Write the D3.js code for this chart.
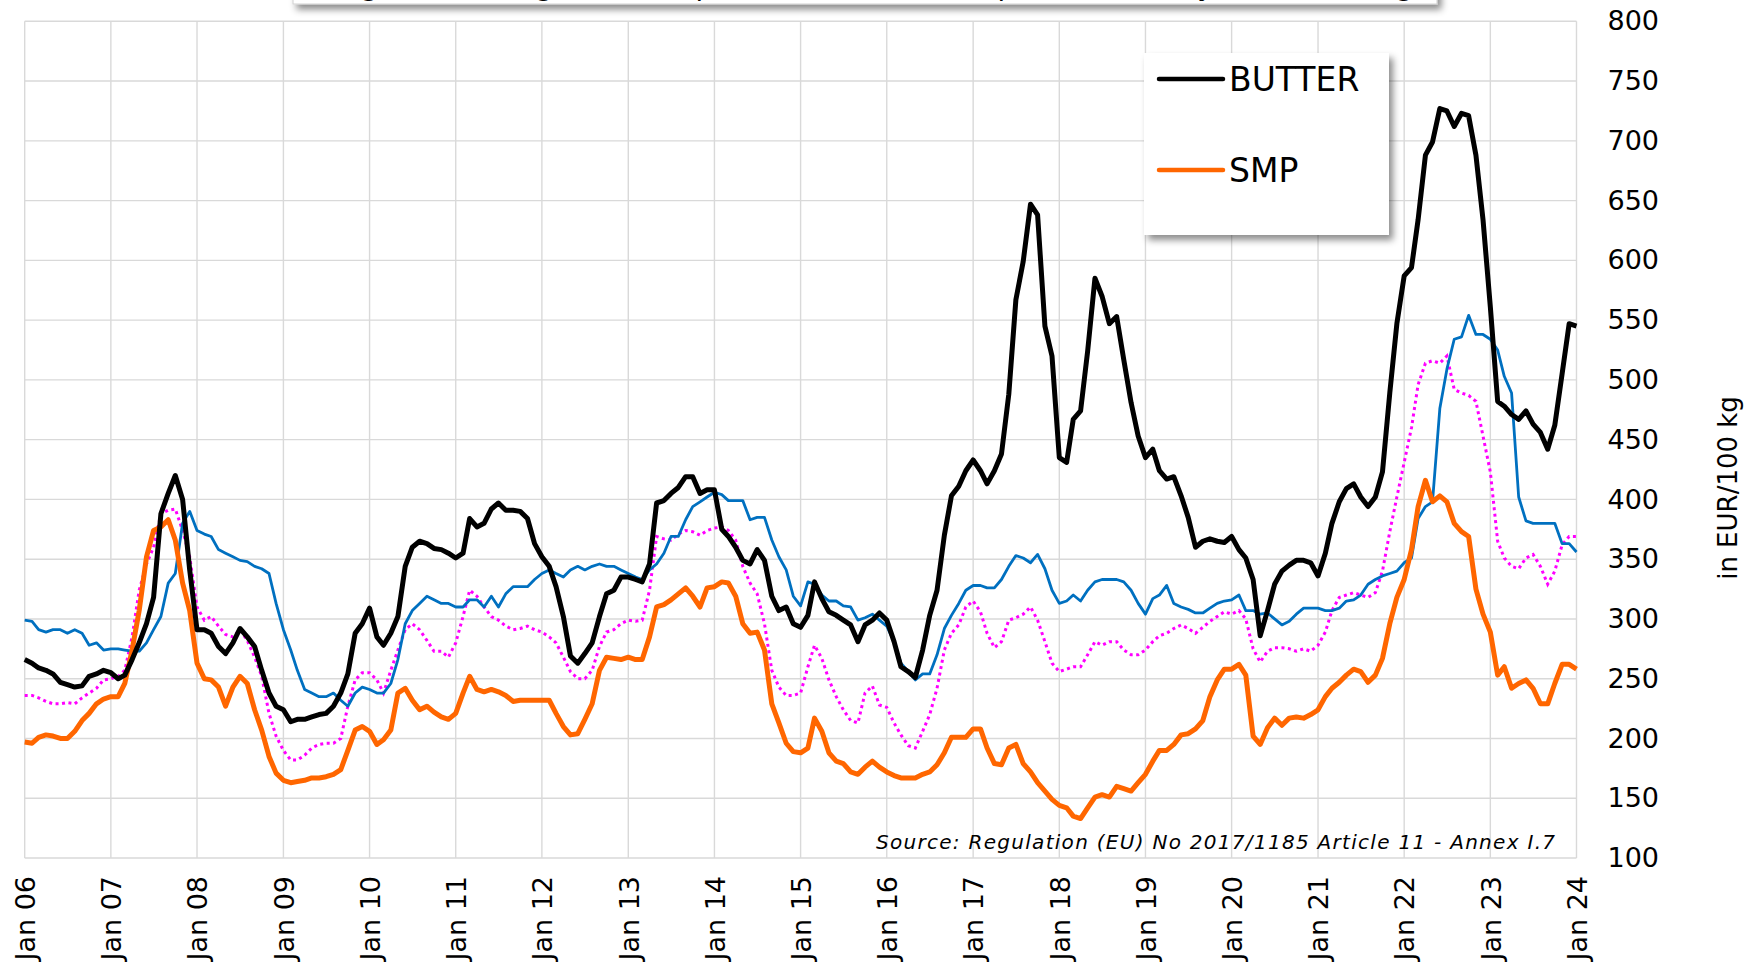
<!DOCTYPE html>
<html>
<head>
<meta charset="utf-8">
<script src="https://cdn.jsdelivr.net/npm/d3@7"></script>
<style>
  body { margin: 0; background: #fff; }
  text { font-family: "DejaVu Sans", Verdana, sans-serif; fill: #000; }
</style>
</head>
<body>
<svg id="chart" width="1754" height="967"></svg>
<script>
// monthly readings, Jan 2006 .. Jan 2024 (EUR/100 kg)
var butter = [
  266, 263, 259, 257, 254, 247, 245, 243, 244, 252, 254, 257,
  255, 250, 253, 266, 280, 296, 318, 388, 405, 420, 400, 341,
  291, 291, 288, 277, 271, 280, 292, 285, 277, 257, 238, 227,
  224, 214, 216, 216, 218, 220, 221, 227, 238, 254, 288, 296,
  309, 285, 278, 288, 302, 344, 360, 365, 363, 359, 358, 355,
  351, 355, 384, 377, 380, 392, 397, 391, 391, 390, 384, 363,
  352, 344, 327, 302, 269, 263, 271, 280, 302, 321, 324, 335,
  335, 333, 331, 346, 397, 399, 405, 410, 419, 419, 405, 408,
  408, 375, 369, 360, 349, 346, 358, 349, 319, 307, 310, 296,
  293, 303, 331, 317, 306, 303, 299, 295, 281, 295, 299, 305,
  299, 281, 260, 256, 251, 274, 303, 324, 370, 403, 411, 424,
  433, 424, 413, 424, 438, 488, 567, 599, 647, 638, 545, 520,
  435, 431, 467, 474, 524, 585, 570, 547, 553, 517, 481, 453,
  435, 442, 424, 417, 419, 403, 385, 360, 365, 367, 365, 364,
  369, 358, 351, 333, 286, 307, 329, 340, 345, 349, 349, 347,
  336, 355, 380, 398, 409, 413, 402, 394, 402, 423, 489, 547,
  587, 594, 634, 688, 699, 727, 725, 712, 723, 721, 688, 634,
  561, 482, 478, 471, 467, 474, 463, 456, 442, 462, 505, 547,
  545
];

var smp = [
  197, 196, 201, 203, 202, 200, 200, 206, 215, 221, 229, 233,
  235, 235, 246, 274, 307, 352, 374, 377, 383, 366, 330, 307,
  263, 250, 249, 243, 227, 243, 252, 246, 224, 207, 185, 171,
  165, 163, 164, 165, 167, 167, 168, 170, 174, 190, 207, 210,
  206, 195, 199, 207, 238, 242, 232, 224, 227, 222, 218, 216,
  221, 238, 252, 241, 239, 241, 239, 236, 231, 232, 232, 232,
  232, 232, 221, 210, 203, 204, 216, 229, 257, 268, 267, 266,
  268, 266, 266, 285, 310, 312, 316, 321, 326, 319, 310, 326,
  327, 331, 330, 319, 296, 288, 289, 274, 229, 213, 196, 189,
  188, 192, 217, 206, 188, 181, 179, 172, 170, 176, 181, 176,
  172, 169, 167, 167, 167, 170, 172, 178, 188, 201, 201, 201,
  208, 208, 192, 179, 178, 192, 195, 179, 172, 163, 156, 149,
  144, 142, 135, 133, 142, 151, 153, 151, 160, 158, 156, 163,
  170, 181, 190, 190, 195, 203, 204, 208, 215, 235, 249, 258,
  258, 262, 253, 202, 195, 209, 217, 211, 217, 218, 217, 220,
  224, 235, 242, 247, 253, 258, 256, 247, 253, 267, 296, 318,
  333, 358, 394, 416, 398, 403, 398, 380, 373, 369, 325, 304,
  289, 253, 260, 242, 246, 249, 242, 229, 229, 246, 262, 262,
  258
];

// thin blue series
var blueSeries = [
  299, 298, 291, 289, 291, 291, 288, 291, 288, 278, 280, 274,
  275, 275, 274, 273, 273, 280, 291, 302, 330, 338, 380, 390,
  374, 371, 369, 358, 355, 352, 349, 348, 344, 342, 338, 313,
  291, 274, 257, 241, 238, 235, 235, 238, 232, 227, 238, 243,
  241, 238, 238, 246, 266, 296, 307, 313, 319, 316, 313, 313,
  310, 310, 316, 316, 310, 319, 310, 321, 327, 327, 327, 333,
  338, 341, 338, 335, 341, 344, 341, 344, 346, 344, 344, 341,
  338, 335, 333, 341, 346, 355, 369, 369, 383, 394, 398, 402,
  406, 404, 399, 399, 399, 383, 385, 385, 366, 352, 341, 319,
  311, 331, 329, 320, 315, 315, 311, 310, 299, 301, 304, 299,
  294, 281, 263, 256, 249, 254, 254, 270, 292, 303, 313, 324,
  328, 328, 326, 326, 333, 344, 353, 351, 347, 354, 342, 324,
  313, 315, 320, 315, 324, 331, 333, 333, 333, 331, 324, 313,
  304, 317, 320, 328, 313, 310, 308, 305, 305, 309, 313, 315,
  316, 320, 307, 307, 304, 305, 300, 295, 298, 304, 309, 309,
  309, 307, 307, 309, 315, 316, 320, 329, 333, 336, 338, 340,
  347, 351, 384, 394, 398, 476, 509, 534, 536, 554, 538, 538,
  534, 525, 503, 489, 402, 382, 380, 380, 380, 380, 363, 363,
  356
];

// magenta dotted series
var dottedSeries = [
  236, 236, 234, 231, 229, 229, 230, 229, 234, 238, 242, 249,
  250, 252, 257, 285, 324, 346, 360, 388, 391, 392, 374, 352,
  310, 299, 302, 294, 287, 285, 291, 282, 268, 252, 221, 202,
  190, 182, 182, 186, 192, 195, 196, 196, 200, 227, 249, 255,
  255, 249, 238, 257, 274, 291, 296, 291, 282, 273, 273, 268,
  280, 302, 324, 319, 310, 302, 299, 294, 291, 292, 294, 291,
  289, 285, 280, 268, 256, 250, 250, 257, 277, 289, 291, 296,
  299, 298, 299, 324, 369, 367, 366, 371, 374, 373, 370, 374,
  376, 377, 374, 366, 344, 330, 321, 296, 257, 243, 236, 236,
  238, 260, 278, 267, 249, 235, 224, 215, 213, 238, 244, 228,
  226, 213, 203, 194, 192, 206, 220, 242, 274, 288, 295, 310,
  315, 306, 288, 276, 281, 299, 301, 304, 310, 299, 281, 263,
  256, 258, 260, 260, 270, 281, 278, 281, 281, 274, 270, 270,
  274, 281, 286, 288, 292, 295, 292, 288, 293, 298, 302, 306,
  304, 307, 300, 275, 264, 273, 276, 276, 275, 273, 275, 273,
  278, 289, 307, 318, 320, 322, 320, 318, 322, 340, 373, 402,
  431, 460, 496, 514, 516, 514, 520, 492, 489, 487, 482, 453,
  423, 365, 351, 344, 342, 351, 354, 344, 329, 340, 362, 369,
  369
];

var xLabels = ["Jan 06", "Jan 07", "Jan 08", "Jan 09", "Jan 10", "Jan 11", "Jan 12",
  "Jan 13", "Jan 14", "Jan 15", "Jan 16", "Jan 17", "Jan 18", "Jan 19", "Jan 20",
  "Jan 21", "Jan 22", "Jan 23", "Jan 24"];
var yTicks = [100, 150, 200, 250, 300, 350, 400, 450, 500, 550, 600, 650, 700, 750, 800];
var legendNames = ["BUTTER", "SMP"];

var svg = d3.select("#chart");

var months = d3.timeMonth.range(new Date(2006, 0, 1), new Date(2024, 0, 2));
var years = xLabels.map(function(d, i) { return new Date(2006 + i, 0, 1); });

var x = d3.scaleTime()
  .domain([new Date(2006, 0, 1), new Date(2024, 0, 1)])
  .range([24.7, 1576.5]);
var y = d3.scaleLinear()
  .domain([100, 800])
  .range([858, 21.3]);

var defs = svg.append("defs");
var shadow = defs.append("filter").attr("id", "shadow")
  .attr("x", "-10%").attr("y", "-10%").attr("width", "130%").attr("height", "140%");
shadow.append("feDropShadow")
  .attr("dx", 4).attr("dy", 5).attr("stdDeviation", 3.5)
  .attr("flood-color", "#000").attr("flood-opacity", 0.45);

// grid
var grid = svg.append("g").attr("class", "grid");
grid.selectAll("line.h")
  .data(yTicks)
  .enter().append("line")
  .attr("class", "h")
  .attr("x1", x.range()[0]).attr("x2", x.range()[1])
  .attr("y1", function(d) { return y(d); })
  .attr("y2", function(d) { return y(d); })
  .attr("stroke", "#d9d9d9").attr("stroke-width", 1.4);
grid.selectAll("line.v")
  .data(years)
  .enter().append("line")
  .attr("class", "v")
  .attr("x1", function(d) { return x(d); })
  .attr("x2", function(d) { return x(d); })
  .attr("y1", y(800)).attr("y2", y(100))
  .attr("stroke", "#d9d9d9").attr("stroke-width", 1.4);

// y axis on the right
var yAxis = d3.axisRight(y).tickValues(yTicks).tickSize(0).tickPadding(31);
svg.append("g")
  .attr("transform", "translate(" + x.range()[1] + ",0)")
  .call(yAxis)
  .call(function(g) { g.select(".domain").remove(); })
  .selectAll("text")
  .style("font-family", "DejaVu Sans, Verdana, sans-serif")
  .style("font-size", "27px")
  .attr("fill", "#000");

// x axis labels, rotated
var xAxis = d3.axisBottom(x).tickValues(years)
  .tickFormat(function(d, i) { return xLabels[i]; })
  .tickSize(0);
svg.append("g")
  .attr("transform", "translate(0," + y.range()[0] + ")")
  .call(xAxis)
  .call(function(g) { g.select(".domain").remove(); })
  .selectAll("text")
  .style("font-family", "DejaVu Sans, Verdana, sans-serif")
  .style("font-size", "27px")
  .attr("fill", "#000")
  .attr("text-anchor", "end")
  .attr("transform", "translate(0,18) rotate(-90)")
  .attr("x", 0).attr("y", 0).attr("dy", "0.36em");

// axis title
svg.append("text")
  .attr("transform", "translate(1728,488) rotate(-90)")
  .attr("text-anchor", "middle")
  .attr("dy", "0.35em")
  .style("font-size", "26px")
  .text("in EUR/100 kg");

// series
var line = d3.line()
  .x(function(d, i) { return x(months[i]); })
  .y(function(d) { return y(d); });

svg.append("path").datum(dottedSeries)
  .attr("d", line).attr("fill", "none")
  .attr("stroke", "#ff00ff").attr("stroke-width", 3)
  .attr("stroke-dasharray", "3,3.5");
svg.append("path").datum(blueSeries)
  .attr("d", line).attr("fill", "none")
  .attr("stroke", "#0070c0").attr("stroke-width", 2.8)
  .attr("stroke-linejoin", "round");
svg.append("path").datum(smp)
  .attr("d", line).attr("fill", "none")
  .attr("stroke", "#ff6600").attr("stroke-width", 5)
  .attr("stroke-linejoin", "round");
svg.append("path").datum(butter)
  .attr("d", line).attr("fill", "none")
  .attr("stroke", "#000").attr("stroke-width", 5)
  .attr("stroke-linejoin", "round");

// source note
svg.append("text")
  .attr("x", 876).attr("y", 849)
  .attr("textLength", 679).attr("lengthAdjust", "spacing")
  .style("font-size", "20px").style("font-style", "italic")
  .text("Source:  Regulation  (EU)  No  2017/1185  Article 11  -  Annex I.7");

// legend
var legend = svg.append("g");
legend.append("rect")
  .attr("x", 1144).attr("y", 53).attr("width", 245).attr("height", 182)
  .attr("fill", "#fff").attr("filter", "url(#shadow)");
var legendColors = ["#000", "#ff6600"];
var legendY = [79, 170];
legendNames.forEach(function(name, i) {
  legend.append("line")
    .attr("x1", 1159).attr("x2", 1223)
    .attr("y1", legendY[i]).attr("y2", legendY[i])
    .attr("stroke", legendColors[i]).attr("stroke-width", 4.5)
    .attr("stroke-linecap", "round");
  legend.append("text")
    .attr("x", 1229).attr("y", legendY[i] + 12)
    .style("font-size", "33px")
    .text(name);
});

// title box, mostly above the visible area
svg.append("rect")
  .attr("x", 293).attr("y", -60).attr("width", 1144).attr("height", 64)
  .attr("fill", "#fff").attr("stroke", "#d0d0d0").attr("stroke-width", 1)
  .attr("filter", "url(#shadow)");
svg.append("text")
  .attr("x", 297).attr("y", -5)
  .attr("textLength", 1128).attr("lengthAdjust", "spacing")
  .style("font-size", "28px")
  .text("(Weighted average of EU representative market prices - weekly) (EUR/100 kg)");
</script>
</body>
</html>
